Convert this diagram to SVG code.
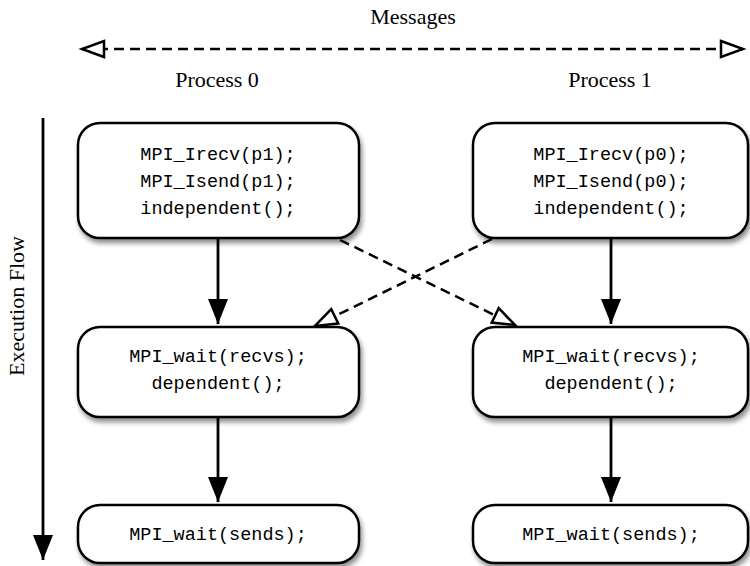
<svg xmlns="http://www.w3.org/2000/svg" width="750" height="566" viewBox="0 0 750 566">
<style>
.box{fill:#fff;stroke:#000;stroke-width:2.5;filter:url(#shadow)}
.code{font-family:"Liberation Mono","DejaVu Sans Mono",monospace;font-size:18.5px;text-anchor:middle;fill:#000}
.lbl{font-family:"Liberation Serif","DejaVu Serif",serif;font-size:22px;text-anchor:middle;fill:#000}
.solid{stroke:#000;stroke-width:2.8;fill:none;marker-end:url(#ah)}
.dash{stroke:#000;stroke-width:2.5;fill:none;stroke-dasharray:10 6;marker-end:url(#open)}
</style>
<defs>
<filter id="shadow" x="-10%" y="-10%" width="130%" height="140%">
<feGaussianBlur in="SourceAlpha" stdDeviation="2.5"/>
<feOffset dx="2" dy="4" result="b"/>
<feComponentTransfer><feFuncA type="linear" slope="0.45"/></feComponentTransfer>
<feMerge><feMergeNode/><feMergeNode in="SourceGraphic"/></feMerge>
</filter>
<marker id="ah" markerUnits="userSpaceOnUse" markerWidth="26" markerHeight="22" refX="25" refY="10" orient="auto" overflow="visible">
<path d="M0,0 L25,10 L0,20 Z" fill="#000"/>
</marker>
<marker id="open" markerUnits="userSpaceOnUse" markerWidth="26" markerHeight="20" refX="23" refY="9" orient="auto-start-reverse" overflow="visible">
<path d="M1,1 L23,9 L1,17 Z" fill="#fff" stroke="#000" stroke-width="2.5"/>
</marker>
</defs>

<g id="labels">
<text class="lbl" x="413" y="24">Messages</text>
<text class="lbl" x="217" y="87">Process 0</text>
<text class="lbl" x="610" y="87">Process 1</text>
<text class="lbl" transform="translate(24,306) rotate(-90)">Execution Flow</text>
</g>

<g id="connectors">
<line x1="82" y1="49" x2="743" y2="49" class="dash" marker-start="url(#open)"/>
<line x1="43" y1="118" x2="43" y2="560" class="solid"/>
<line x1="218" y1="238" x2="218" y2="324" class="solid"/>
<line x1="611" y1="238" x2="611" y2="324" class="solid"/>
<line x1="218" y1="417" x2="218" y2="502" class="solid"/>
<line x1="611" y1="417" x2="611" y2="502" class="solid"/>
<line x1="340" y1="240" x2="515" y2="325" class="dash"/>
<line x1="492" y1="239" x2="315" y2="326" class="dash"/>
</g>

<g id="p0-start">
<rect class="box" x="78" y="123" width="281" height="115" rx="22"/>
<text class="code" x="218" y="160">MPI_Irecv(p1);</text>
<text class="code" x="218" y="187">MPI_Isend(p1);</text>
<text class="code" x="218" y="214">independent();</text>
</g>
<g id="p1-start">
<rect class="box" x="473" y="123" width="275" height="115" rx="22"/>
<text class="code" x="611" y="160">MPI_Irecv(p0);</text>
<text class="code" x="611" y="187">MPI_Isend(p0);</text>
<text class="code" x="611" y="214">independent();</text>
</g>
<g id="p0-wait-recv">
<rect class="box" x="78" y="327" width="281" height="90" rx="22"/>
<text class="code" x="218" y="362">MPI_wait(recvs);</text>
<text class="code" x="218" y="389">dependent();</text>
</g>
<g id="p1-wait-recv">
<rect class="box" x="473" y="327" width="275" height="90" rx="22"/>
<text class="code" x="611" y="362">MPI_wait(recvs);</text>
<text class="code" x="611" y="389">dependent();</text>
</g>
<g id="p0-wait-send">
<rect class="box" x="78" y="505" width="281" height="58" rx="22"/>
<text class="code" x="218" y="540">MPI_wait(sends);</text>
</g>
<g id="p1-wait-send">
<rect class="box" x="473" y="505" width="275" height="58" rx="22"/>
<text class="code" x="611" y="540">MPI_wait(sends);</text>
</g>
</svg>
